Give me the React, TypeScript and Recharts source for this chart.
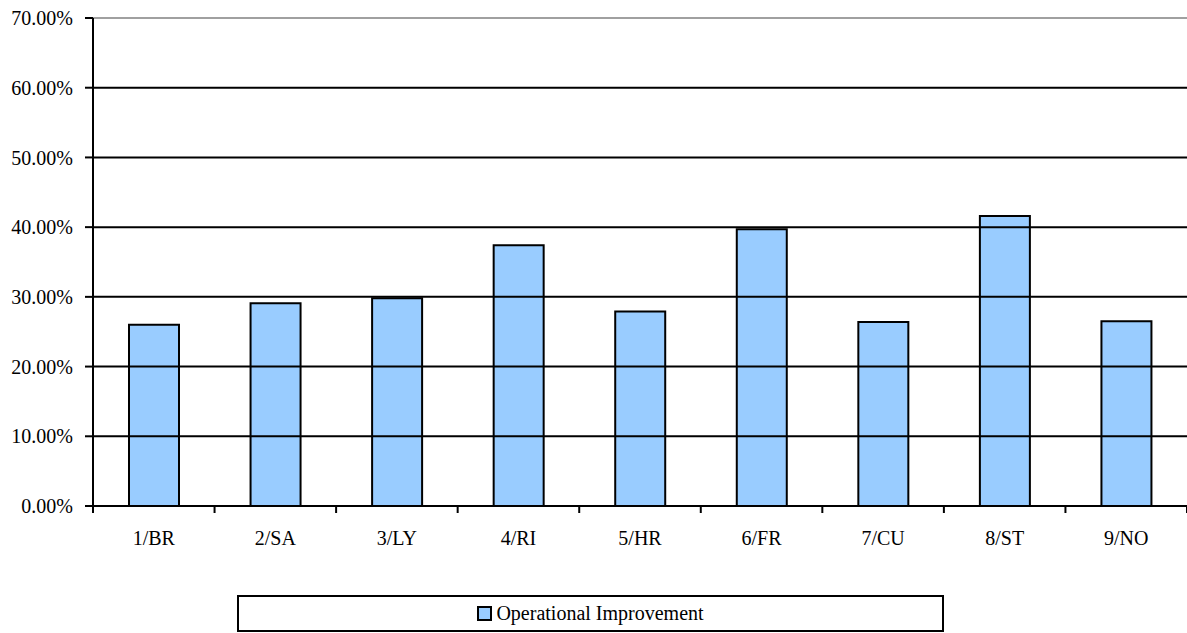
import { BarChart, Bar, XAxis, YAxis, Legend, ReferenceLine } from 'recharts'

const categories = ['1/BR', '2/SA', '3/LY', '4/RI', '5/HR', '6/FR', '7/CU', '8/ST', '9/NO']
const improvement = [0.26, 0.291, 0.298, 0.374, 0.279, 0.397, 0.264, 0.416, 0.265]
const yTicks = [0, 0.1, 0.2, 0.3, 0.4, 0.5, 0.6, 0.7]
const seriesName = 'Operational Improvement'

const FONT = '"Liberation Serif", "Times New Roman", serif'

const data = categories.map((name, i) => ({ name, value: improvement[i] }))

function CategoryTick(props: any) {
  const { x, y, payload, index, visibleTicksCount, width } = props
  const half = payload.offset ?? width / visibleTicksCount / 2
  const isLast = index === visibleTicksCount - 1
  return (
    <g>
      <line x1={x - half} x2={x - half} y1={y} y2={y + 7} stroke="#000" strokeWidth={2} />
      {isLast && <line x1={x + half} x2={x + half} y1={y} y2={y + 7} stroke="#000" strokeWidth={2} />}
      <text x={x} y={y + 39} textAnchor="middle" fontSize={20} fontFamily={FONT} fill="#000">
        {payload.value}
      </text>
    </g>
  )
}

function LegendBox() {
  return (
    <div style={{ display: 'flex', justifyContent: 'flex-start' }}>
      <div
        style={{
          marginLeft: 237, width: 703, height: 33, border: '2px solid #000',
          display: 'flex', alignItems: 'center', justifyContent: 'center',
          fontFamily: FONT, fontSize: 20, color: '#000', background: '#fff',
        }}
      >
        <span style={{ display: 'inline-block', width: 11, height: 11, background: '#99CCFF', border: '2px solid #000', marginRight: 4 }} />
        <span style={{ fontFamily: FONT }}>{seriesName}</span>
      </div>
    </div>
  )
}

export default function App() {
  return (
    <div style={{ position: 'absolute', left: 0, top: 0, background: '#fff' }}>
      <BarChart width={1187} height={633} data={data} margin={{ top: 18, right: 0, bottom: 1, left: 0 }}>
        {/* gridlines: black, the top one grey like the chart-area border */}
        {yTicks.slice(1).map(t => (
          <ReferenceLine key={t} y={t} stroke={t === 0.7 ? '#a0a0a0' : '#000'} strokeWidth={2} />
        ))}
        <XAxis
          dataKey="name"
          height={89}
          axisLine={{ stroke: '#000', strokeWidth: 2 }}
          tickLine={false}
          tickSize={0}
          tickMargin={0}
          interval={0}
          tick={<CategoryTick />}
        />
        <YAxis
          width={93}
          domain={[0, 0.7]}
          ticks={yTicks}
          interval={0}
          tickFormatter={(v: number) => `${(v * 100).toFixed(2)}%`}
          axisLine={{ stroke: '#000', strokeWidth: 2 }}
          tickLine={{ stroke: '#000', strokeWidth: 2 }}
          tickSize={8}
          tickMargin={12}
          tick={{ fill: '#000', fontSize: 20, fontFamily: FONT }}
        />
        <Legend verticalAlign="bottom" height={37} content={<LegendBox />} />
        <Bar dataKey="value" name={seriesName} fill="#99CCFF" stroke="#000" strokeWidth={2} barSize={50} isAnimationActive={false} />
      </BarChart>
    </div>
  )
}
